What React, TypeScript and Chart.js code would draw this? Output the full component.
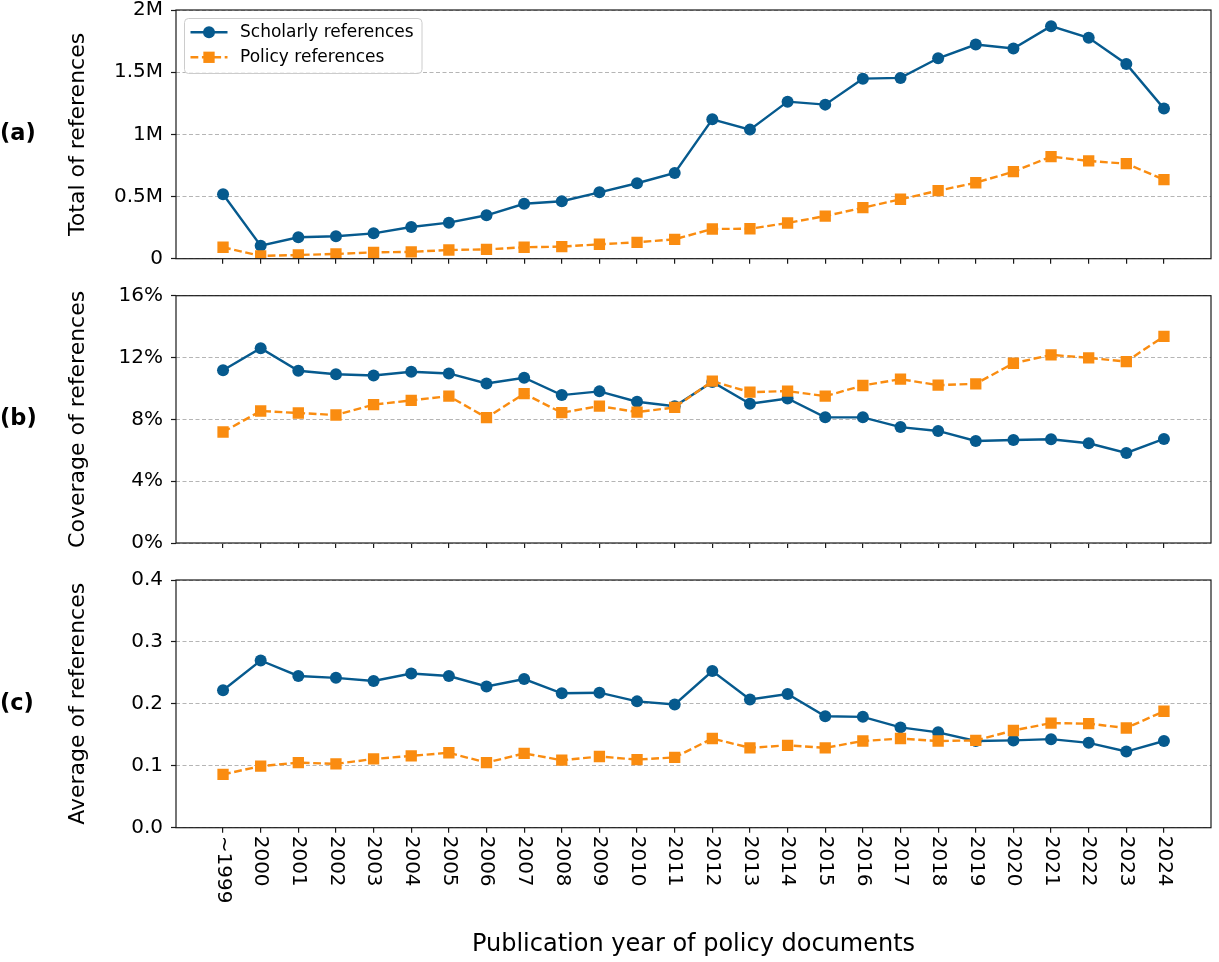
import React, { useEffect, useRef } from 'react';
import { Chart, registerables } from 'chart.js';

Chart.register(...registerables);

const FONT = "'DejaVu Sans', 'Noto Sans', sans-serif";
const BLUE = '#065a8e';
const ORANGE = '#fa8c10';
const INK = '#1a1a1a';

const years = [
  '~1999', '2000', '2001', '2002', '2003', '2004', '2005', '2006', '2007', '2008',
  '2009', '2010', '2011', '2012', '2013', '2014', '2015', '2016', '2017', '2018',
  '2019', '2020', '2021', '2022', '2023', '2024',
];

const seriesLabels = ['Scholarly references', 'Policy references'];

const totalScholarly = [
  518000, 105000, 172000, 180000, 204000, 255000, 290000, 349000, 442000, 462000,
  534000, 607000, 690000, 1121000, 1038000, 1263000, 1239000, 1448000, 1454000, 1612000,
  1722000, 1690000, 1870000, 1776000, 1566000, 1207000,
];
const totalPolicy = [
  92000, 22000, 30000, 38000, 51000, 55000, 70000, 75000, 92000, 97000,
  116000, 132000, 156000, 239000, 241000, 287000, 343000, 410000, 478000, 547000,
  611000, 700000, 821000, 786000, 764000, 636000,
];

const coverageScholarly = [
  11.18, 12.6, 11.14, 10.92, 10.84, 11.08, 10.97, 10.32, 10.69, 9.57,
  9.81, 9.14, 8.85, 10.42, 9.01, 9.35, 8.13, 8.13, 7.5, 7.25,
  6.6, 6.66, 6.71, 6.45, 5.83, 6.73,
];
const coveragePolicy = [
  7.18, 8.54, 8.41, 8.28, 8.95, 9.23, 9.5, 8.11, 9.66, 8.43,
  8.86, 8.47, 8.77, 10.47, 9.76, 9.83, 9.5, 10.19, 10.6, 10.21,
  10.3, 11.63, 12.17, 11.98, 11.74, 13.37,
];

const averageScholarly = [
  0.222, 0.27, 0.245, 0.242, 0.237, 0.249, 0.245, 0.228, 0.24, 0.217,
  0.218, 0.204, 0.199, 0.253, 0.207, 0.216, 0.18, 0.179, 0.162, 0.154,
  0.14, 0.141, 0.143, 0.137, 0.123, 0.14,
];
const averagePolicy = [
  0.086, 0.0995, 0.105, 0.103, 0.111, 0.116, 0.121, 0.105, 0.12, 0.109,
  0.115, 0.11, 0.1135, 0.144, 0.129, 0.133, 0.129, 0.14, 0.144, 0.14,
  0.141, 0.157, 0.169, 0.168, 0.161, 0.188,
];

const totalTicks = [0, 500000, 1000000, 1500000, 2000000];
const coverageTicks = [0, 4, 8, 12, 16];
const averageTicks = [0, 0.1, 0.2, 0.3, 0.4];

const xTitle = 'Publication year of policy documents';

type PanelCfg = {
  top: number;
  height: number;
  padTop: number;
  xHeight: number;
  tag: string;
  yTitle: string;
  yTicks: number[];
  fmt: (v: number) => string;
  scholarly: number[];
  policy: number[];
  legend?: boolean;
  xLabels?: boolean;
};

const panels: PanelCfg[] = [
  {
    top: 0, height: 277, padTop: 10, xHeight: 18.3,
    tag: '(a)', yTitle: 'Total of references', yTicks: totalTicks,
    fmt: (v) => (v === 0 ? '0' : `${v / 1000000}M`),
    scholarly: totalScholarly, policy: totalPolicy, legend: true,
  },
  {
    top: 277, height: 285, padTop: 18.7, xHeight: 19,
    tag: '(b)', yTitle: 'Coverage of references', yTicks: coverageTicks,
    fmt: (v) => `${v}%`,
    scholarly: coverageScholarly, policy: coveragePolicy,
  },
  {
    top: 562, height: 400, padTop: 18, xHeight: 134.3,
    tag: '(c)', yTitle: 'Average of references', yTicks: averageTicks,
    fmt: (v) => v.toFixed(1),
    scholarly: averageScholarly, policy: averagePolicy, xLabels: true,
  },
];

function drawMarker(ctx: CanvasRenderingContext2D, style: string, x: number, y: number, r: number, color: string) {
  ctx.fillStyle = color;
  ctx.beginPath();
  if (style === 'rect') {
    const s = Math.SQRT1_2 * r;
    ctx.rect(x - s, y - s, 2 * s, 2 * s);
  } else {
    ctx.arc(x, y, r, 0, Math.PI * 2);
  }
  ctx.fill();
}

function makeDecor(p: PanelCfg) {
  return {
    id: 'decor',
    afterDraw(chart: any) {
      const ctx: CanvasRenderingContext2D = chart.ctx;
      const a = chart.chartArea;
      const cy = (a.top + a.bottom) / 2;
      ctx.save();
      ctx.setLineDash([]);
      ctx.strokeStyle = INK;
      ctx.lineWidth = 1.2;
      ctx.strokeRect(a.left, a.top, a.right - a.left, a.bottom - a.top);

      ctx.fillStyle = '#000';
      // panel tag
      ctx.font = `bold 22.5px ${FONT}`;
      ctx.textAlign = 'left';
      ctx.textBaseline = 'middle';
      ctx.fillText(p.tag, 0, cy);

      // y title
      ctx.save();
      ctx.font = `22px ${FONT}`;
      ctx.translate(84, cy);
      ctx.rotate(-Math.PI / 2);
      ctx.textAlign = 'center';
      ctx.textBaseline = 'alphabetic';
      ctx.fillText(p.yTitle, 0, 0);
      ctx.restore();

      if (p.xLabels) {
        const xs = chart.scales.x;
        ctx.font = `20px ${FONT}`;
        years.forEach((lab, i) => {
          const x = xs.getPixelForValue(i);
          ctx.save();
          ctx.translate(x, a.bottom + 8);
          ctx.rotate(Math.PI / 2);
          ctx.textAlign = 'left';
          ctx.textBaseline = 'middle';
          ctx.fillText(lab, 0, 0);
          ctx.restore();
        });
        ctx.font = `24px ${FONT}`;
        ctx.textAlign = 'center';
        ctx.textBaseline = 'alphabetic';
        ctx.fillText(xTitle, (a.left + a.right) / 2, 389);
      }

      if (p.legend) {
        const bx = 184.5, by = 18.5, bw = 237.5, bh = 55, r = 4;
        ctx.beginPath();
        ctx.moveTo(bx + r, by);
        ctx.lineTo(bx + bw - r, by);
        ctx.arcTo(bx + bw, by, bx + bw, by + r, r);
        ctx.lineTo(bx + bw, by + bh - r);
        ctx.arcTo(bx + bw, by + bh, bx + bw - r, by + bh, r);
        ctx.lineTo(bx + r, by + bh);
        ctx.arcTo(bx, by + bh, bx, by + bh - r, r);
        ctx.lineTo(bx, by + r);
        ctx.arcTo(bx, by, bx + r, by, r);
        ctx.closePath();
        ctx.fillStyle = 'rgba(255,255,255,0.8)';
        ctx.fill();
        ctx.strokeStyle = '#cccccc';
        ctx.lineWidth = 1;
        ctx.stroke();

        const rows = [32.3, 57.3];
        chart.data.datasets.forEach((ds: any, i: number) => {
          const y = rows[i];
          ctx.save();
          ctx.strokeStyle = ds.borderColor;
          ctx.lineWidth = ds.borderWidth;
          ctx.setLineDash(ds.borderDash || []);
          ctx.beginPath();
          ctx.moveTo(190.5, y);
          ctx.lineTo(227.5, y);
          ctx.stroke();
          ctx.restore();
          drawMarker(ctx, ds.pointStyle, 209, y, ds.pointRadius, ds.borderColor);
          ctx.fillStyle = '#000';
          ctx.font = `17px ${FONT}`;
          ctx.textAlign = 'left';
          ctx.textBaseline = 'middle';
          ctx.fillText(ds.label, 240, y);
        });
      }
      ctx.restore();
    },
  };
}

function buildConfig(p: PanelCfg): any {
  const yMin = p.yTicks[0];
  const yMax = p.yTicks[p.yTicks.length - 1];
  return {
    type: 'line',
    data: {
      datasets: [
        {
          label: seriesLabels[0],
          data: p.scholarly.map((v, i) => ({ x: i, y: v })),
          borderColor: BLUE,
          backgroundColor: BLUE,
          borderWidth: 2.4,
          pointStyle: 'circle',
          pointRadius: 6,
          pointBackgroundColor: BLUE,
          pointBorderColor: BLUE,
          pointBorderWidth: 0,
          tension: 0,
          order: 1,
        },
        {
          label: seriesLabels[1],
          data: p.policy.map((v, i) => ({ x: i, y: v })),
          borderColor: ORANGE,
          backgroundColor: ORANGE,
          borderWidth: 2.4,
          borderDash: [7.8, 3.6],
          pointStyle: 'rect',
          pointRadius: 8,
          pointBackgroundColor: ORANGE,
          pointBorderColor: ORANGE,
          pointBorderWidth: 0,
          tension: 0,
          order: 0,
        },
      ],
    },
    options: {
      animation: false,
      responsive: true,
      maintainAspectRatio: false,
      events: [],
      layout: { padding: { top: p.padTop, bottom: 0, left: 0, right: 3 } },
      plugins: { legend: { display: false }, tooltip: { enabled: false } },
      scales: {
        x: {
          type: 'linear',
          min: -1.25,
          max: years.length - 1 + 1.25,
          afterBuildTicks: (s: any) => {
            s.ticks = years.map((_, i) => ({ value: i }));
          },
          afterFit: (s: any) => {
            s.height = p.xHeight;
            s.paddingLeft = 0;
            s.paddingRight = 0;
          },
          ticks: { display: false },
          grid: {
            drawOnChartArea: false,
            drawTicks: true,
            tickLength: 5,
            color: INK,
            lineWidth: 1.2,
            tickColor: INK,
            tickWidth: 1.2,
          },
          border: { display: false },
        },
        y: {
          type: 'linear',
          min: yMin,
          max: yMax,
          afterBuildTicks: (s: any) => {
            s.ticks = p.yTicks.map((v) => ({ value: v }));
          },
          afterFit: (s: any) => {
            s.width = 176;
            s.paddingTop = 0;
            s.paddingBottom = 0;
          },
          ticks: {
            color: '#000',
            padding: 8,
            font: { family: FONT, size: 20, lineHeight: 1 },
            callback: (v: number) => p.fmt(v),
          },
          grid: {
            color: '#b5b5b5',
            lineWidth: 1,
            drawTicks: true,
            tickLength: 5,
            tickColor: INK,
            tickWidth: 1.2,
            tickBorderDash: [],
          },
          border: { display: false, dash: [4, 2.5] },
        },
      },
    },
    plugins: [makeDecor(p)],
  };
}

function Panel({ cfg }: { cfg: PanelCfg }) {
  const ref = useRef<HTMLCanvasElement>(null);
  useEffect(() => {
    if (!ref.current) return;
    const chart = new Chart(ref.current, buildConfig(cfg));
    return () => chart.destroy();
  }, [cfg]);
  return (
    <div style={{ position: 'absolute', left: 0, top: cfg.top, width: 1219, height: cfg.height }}>
      <canvas ref={ref} />
    </div>
  );
}

export default function App() {
  return (
    <div style={{ position: 'absolute', left: 0, top: 0, width: 1219, height: 962, background: '#fff' }}>
      {panels.map((p) => (
        <Panel key={p.tag} cfg={p} />
      ))}
    </div>
  );
}
